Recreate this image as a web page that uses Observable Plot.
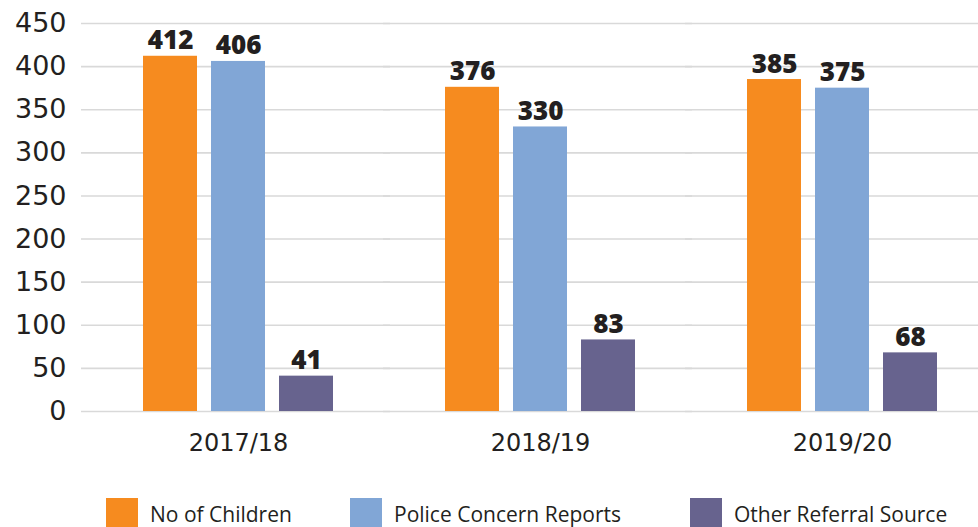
<!DOCTYPE html>
<html>
<head>
<meta charset="utf-8">
<script src="https://cdn.jsdelivr.net/npm/d3@7"></script>
<script src="https://cdn.jsdelivr.net/npm/@observablehq/plot@0.6"></script>
<style>
  html, body { margin: 0; padding: 0; background: #fff; }
  #chart { position: relative; width: 978px; height: 527px; overflow: hidden; }
  #legend { position: absolute; left: 0; top: 498px; width: 978px; height: 29px; font-family: "Open Sans", sans-serif; font-size: 21px; color: #231f20; }
  .item { position: absolute; top: 0; display: flex; align-items: center; height: 40px; }
  .sw { width: 32px; height: 40px; margin-right: 12px; }
</style>
</head>
<body>
<div id="chart"></div>
<script>
const years = ["2017/18", "2018/19", "2019/20"];
const seriesNames = ["No of Children", "Police Concern Reports", "Other Referral Source"];
const noOfChildren = [412, 376, 385];
const policeConcernReports = [406, 330, 375];
const otherReferralSource = [41, 83, 68];
const colors = ["#F68B1F", "#81A6D6", "#67638E"];
const yTicks = [0, 50, 100, 150, 200, 250, 300, 350, 400, 450];
const legendLefts = [106, 350, 690];

const seriesValues = [noOfChildren, policeConcernReports, otherReferralSource];
const data = [];
years.forEach((yr, i) => seriesNames.forEach((s, j) => data.push({year: yr, series: s, value: seriesValues[j][i]})));

const plot = Plot.plot({
  width: 978,
  height: 470,
  marginTop: 23,
  marginBottom: 59,
  marginLeft: 80,
  marginRight: 0,
  style: {fontFamily: "DejaVu Sans, sans-serif", background: "transparent", overflow: "visible"},
  fx: {domain: years, paddingInner: 0.372, paddingOuter: 0.17, align: 0.6, label: null},
  x: {domain: seriesNames, paddingInner: 0.206, paddingOuter: 0, axis: null},
  y: {domain: [0, 450], ticks: yTicks, label: null},
  color: {domain: seriesNames, range: colors},
  marks: [
    Plot.ruleY(yTicks, {stroke: "#d9d9d9", strokeWidth: 1.6, insetLeft: -62, insetRight: -57}),
    Plot.axisY({ticks: yTicks, tickSize: 0, tickPadding: 77, fontSize: 27, fill: "#231f20", label: null}),
    Plot.axisFx({anchor: "bottom", tickSize: 0, tickPadding: 22, fontSize: 24, fill: "#231f20", label: null}),
    Plot.barY(data, {fx: "year", x: "series", y: "value", fill: "series"}),
    Plot.text(data, {fx: "year", x: "series", y: "value", text: d => String(d.value), lineAnchor: "bottom", dy: -7, fontSize: 26, fontWeight: 800, fill: "#231f20", fontFamily: "Open Sans, sans-serif"})
  ]
});
document.getElementById("chart").appendChild(plot);

const legend = document.createElement("div");
legend.id = "legend";
seriesNames.forEach((s, j) => {
  const it = document.createElement("div");
  it.className = "item";
  it.style.left = legendLefts[j] + "px";
  const sw = document.createElement("div");
  sw.className = "sw";
  sw.style.background = colors[j];
  const t = document.createElement("span");
  t.textContent = s;
  t.style.marginTop = "-8px";
  it.appendChild(sw); it.appendChild(t);
  legend.appendChild(it);
});
document.getElementById("chart").appendChild(legend);
</script>
</body>
</html>
